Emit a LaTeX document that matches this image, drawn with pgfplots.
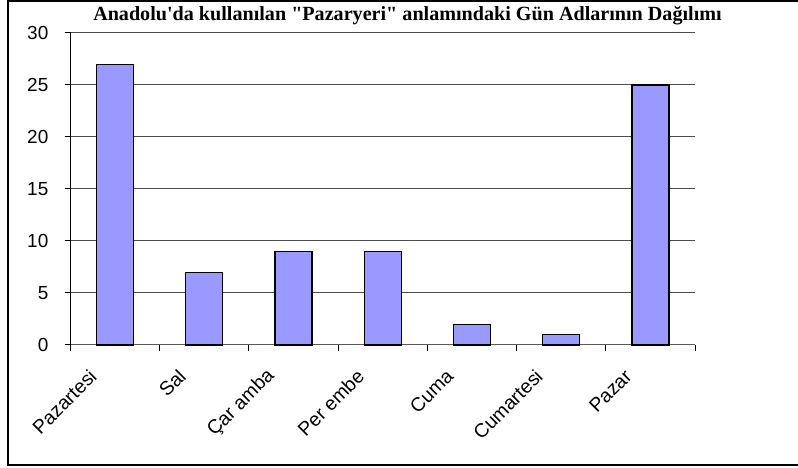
\documentclass[border=0pt]{standalone}
\usepackage{pgfplots}
\pgfplotsset{compat=1.18}
\usepackage{fontspec}
\setmainfont{Liberation Sans}
\newfontfamily\titlefont{Liberation Serif}
\definecolor{barfill}{HTML}{9999FF}
\begin{document}
\begin{tikzpicture}[x=1bp,y=1bp]
\useasboundingbox (0,0) rectangle (798,468);
\draw[line width=2bp] (8,2.5) rectangle (812,466.5);
\node[font=\titlefont\bfseries\fontsize{20.2}{22}\selectfont, anchor=base, inner sep=0pt] at (407.5,447.5) {Anadolu'da kullanılan "Pazaryeri" anlamındaki Gün Adlarının Dağılımı};
\begin{axis}[
  at={(70.5bp,123bp)}, anchor=south west,
  scale only axis, width=624.5bp, height=312bp,
  xmin=-0.5, xmax=6.5, ymin=0, ymax=30,
  ybar, bar width=37bp,
  axis x line*=bottom, axis y line*=left,
  x axis line style={black!65, line width=1bp, -},
  y axis line style={black, line width=1bp, -},
  ytick={0,5,...,30},
  ymajorgrids, grid style={black!70, line width=1bp},
  tick align=outside,
  major tick length=6bp,
  tick style={black, line width=1bp},
  xtick={-0.5,0.5,...,6.5},
  xticklabels={,,,,,,,,},
  extra x ticks={0,1,2,3,4,5,6},
  extra x tick labels={Pazartesi,Sal,Çar amba,Per embe,Cuma,Cumartesi,Pazar},
  extra x tick style={major tick length=0pt, grid=none,
     xticklabel style={font=\fontsize{19.5}{22}\selectfont, xshift=-22bp, yshift=-28bp, rotate=45, anchor=east, inner sep=0pt}},
  ticklabel style={font=\fontsize{19}{22}\selectfont},
  /pgf/number format/assume math mode=true,
  yticklabel style={anchor=east, inner sep=0pt, xshift=-16bp},
  clip=false,
]
\addplot[fill=barfill, draw=black, line width=1.2bp] coordinates {(0,27) (1,7) (2,9) (3,9) (4,2) (5,1) (6,25)};
\end{axis}
\end{tikzpicture}
\end{document}
